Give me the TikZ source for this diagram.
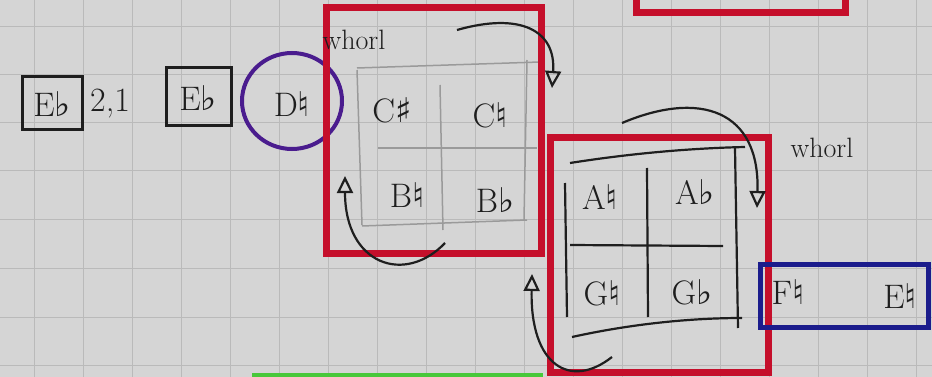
\documentclass[tikz,border=0pt]{standalone}
\usepackage{fontspec}
\newfontfamily\musfont{DejaVu Sans}
\usetikzlibrary{arrows.meta}
\definecolor{paper}{HTML}{D5D5D5}
\definecolor{gridc}{HTML}{BABABA}
\definecolor{redbox}{HTML}{C50F2B}
\definecolor{purp}{HTML}{4A1C8E}
\definecolor{navy}{HTML}{1B1C8C}
\definecolor{pencil}{HTML}{9A9A9A}
\definecolor{greenl}{HTML}{48C83A}
\definecolor{ink}{HTML}{1E1E1E}
\newcommand\mflat{{\musfont\char"266D}}
\newcommand\mnat{{\musfont\char"266E}}
\newcommand\msharp{{\musfont\char"266F}}
\begin{document}
\begin{tikzpicture}[x=1pt,y=-1pt,
  lbl/.style={font=\fontsize{34}{36}\selectfont, text=ink, inner sep=0pt},
  small/.style={font=\fontsize{28}{30}\selectfont, text=ink, inner sep=0pt},
  redframe/.style={draw=redbox, line width=7pt},
  inkbox/.style={draw=ink, line width=3pt},
  pen/.style={draw=pencil, line width=1.5pt},
  inkline/.style={draw=ink, line width=2.2pt},
  arr/.style={draw=ink, line width=2.2pt, -{Triangle[open,length=17pt,width=16pt]}}]
\fill[paper] (0,0) rectangle (932,377);
\useasboundingbox (0,0) rectangle (932,377);
% graph paper grid
\foreach \x in {34,83,...,932} \draw[gridc, line width=1pt] (\x,0) -- (\x,377);
\foreach \y in {27,75,123,171,219,268,317,365} \draw[gridc, line width=1pt] (0,\y) -- (932,\y);
% left boxes
\draw[inkbox] (22,77) rectangle (82,130);
\node[lbl] (e1) at (52,104) {E\mflat};
\node[lbl] (n21) at (110,104) {2,1};
\draw[inkbox] (166,68) rectangle (231,126);
\node[lbl] (e2) at (198,98) {E\mflat};
% purple circle
\draw[purp, line width=4pt] (292,101) ellipse [x radius=50, y radius=48];
\node[lbl] (d) at (292,104) {D\mnat};
% red frame 1 with pencil grid
\draw[pen] (357,70) -- (362,225);
\draw[pen] (440,85) -- (443,230);
\draw[pen] (527,60) -- (524,220);
\draw[pen] (357,68) -- (540,62);
\draw[pen] (378,148) -- (537,148);
\draw[pen] (362,226) -- (527,220);
\node[lbl] (cs) at (392,110) {C\msharp};
\node[lbl] (cn) at (490,115) {C\mnat};
\node[lbl] (bn) at (407,195) {B\mnat};
\node[lbl] (bf) at (495,200) {B\mflat};
\draw[redframe] (326,8) rectangle (541,253);
\node[small] (w1) at (354,40) {whorl};
% top-right partial frame
\draw[redframe] (636,-10) rectangle (845,13);
% red frame 2
\draw[inkline] (570,163) .. controls (640,152) and (700,148) .. (745,147);
\draw[inkline] (565,183) -- (567,317);
\draw[inkline] (647,168) -- (648,317);
\draw[inkline] (735,148) -- (738,328);
\draw[inkline] (570,245) -- (723,246);
\draw[inkline] (572,337) .. controls (640,322) and (700,318) .. (742,318);
\node[lbl] (an) at (600,197) {A\mnat};
\node[lbl] (af) at (695,192) {A\mflat};
\node[lbl] (gn) at (602,293) {G\mnat};
\node[lbl] (gf) at (692,292) {G\mflat};
\draw[redframe] (550,138) rectangle (768,372);
\node[small] (w2) at (822,148) {whorl};
% blue frame
\draw[navy, line width=5pt] (760,264) rectangle (928,327);
\node[lbl] (fn) at (788,292) {F\mnat};
\node[lbl] (en) at (900,296) {E\mnat};
% whorl arrows
\coordinate (a1s) at (457,30);
\coordinate (a1e) at (552,88);
\draw[arr] (a1s) .. controls (520,12) and (556,30) .. (a1e);
\coordinate (a2s) at (445,243);
\coordinate (a2e) at (345,176);
\draw[arr] (a2s) .. controls (405,285) and (345,265) .. (a2e);
\coordinate (a3s) at (622,123);
\coordinate (a3e) at (757,208);
\draw[arr] (a3s) .. controls (700,90) and (760,110) .. (a3e);
\coordinate (a4s) at (612,357);
\coordinate (a4e) at (532,274);
\draw[arr] (a4s) .. controls (570,390) and (530,365) .. (a4e);
% green edge at bottom
\draw[greenl, line width=8pt] (252,377) -- (543,377);
\end{tikzpicture}
\end{document}
